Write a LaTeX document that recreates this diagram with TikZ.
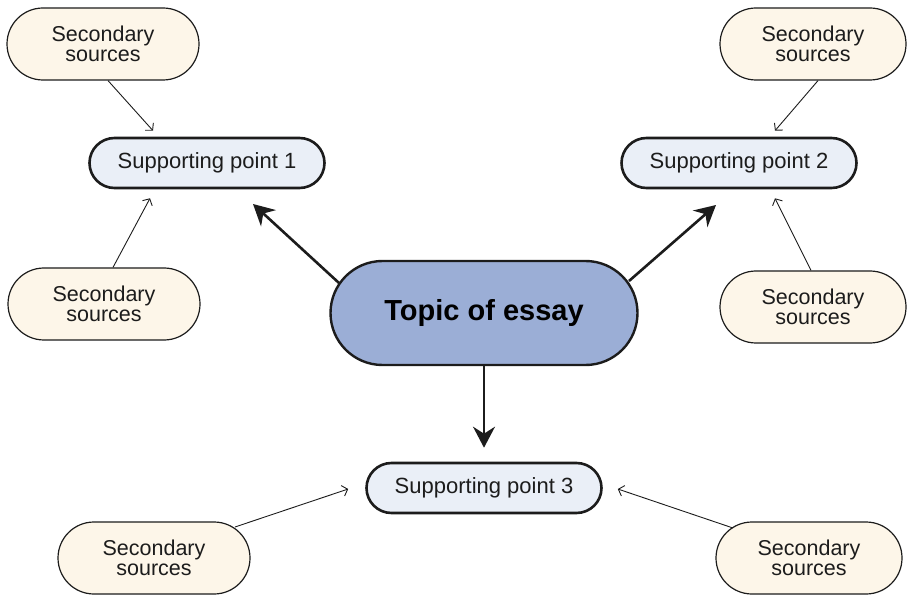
\documentclass[tikz,border=0pt]{standalone}
\usepackage{fontspec}
\setmainfont{Liberation Sans}
\usetikzlibrary{arrows.meta}

\definecolor{ink}{HTML}{1C1C1C}
\definecolor{srcfill}{HTML}{FDF6E9}
\definecolor{ptfill}{HTML}{EAEFF7}
\definecolor{topicfill}{HTML}{9BAED6}

\tikzset{
  srcbox/.style={draw=ink, line width=1.2pt, fill=srcfill, rounded corners=36pt,
    minimum width=192pt, minimum height=72pt, inner sep=0pt, align=center,
    text=ink, font=\fontsize{21.5}{19.5}\selectfont},
  ptbox/.style={draw=ink, line width=2.6pt, fill=ptfill, rounded corners=25pt,
    minimum width=235pt, minimum height=50pt, inner sep=0pt,
    text=ink, font=\fontsize{22}{24}\selectfont},
  topicbox/.style={draw=ink, line width=2.4pt, fill=topicfill, rounded corners=52pt,
    minimum width=307pt, minimum height=104pt, inner sep=0pt,
    text=black, font=\fontsize{29}{32}\selectfont\bfseries},
  cite/.style={draw=ink, line width=0.9pt, -{Straight Barb[length=5pt,width=11pt]}},
  branch/.style={draw=ink, line width=2.6pt, -{Stealth[length=21pt,width=22pt,inset=7pt]}}
}

\begin{document}
\begin{tikzpicture}[x=1pt,y=1pt]
  \useasboundingbox (0,0) rectangle (907,595);

  % central topic
  \node[topicbox] (topic) at (484,282) {Topic of essay};

  % supporting points
  \node[ptbox] (p1) at (207,432) {Supporting point 1};
  \node[ptbox] (p2) at (739,432) {Supporting point 2};
  \node[ptbox] (p3) at (484,107) {Supporting point 3};

  % secondary sources
  \node[srcbox] (tl) at (103,551) {Secondary\\sources};
  \node[srcbox] (ml) at (104,291) {Secondary\\sources};
  \node[srcbox, minimum width=186pt] (tr) at (813,551) {Secondary\\sources};
  \node[srcbox, minimum width=186pt] (mr) at (813,288) {Secondary\\sources};
  \node[srcbox] (bl) at (154,37) {Secondary\\sources};
  \node[srcbox, minimum width=186pt] (br) at (809,37) {Secondary\\sources};

  % topic to supporting points
  \draw[branch] ([shift={(-145pt,30pt)}]topic.center) -- ([shift={(46pt,-41pt)}]p1.center);
  \draw[branch] ([shift={(145pt,32pt)}]topic.center) -- ([shift={(-23pt,-42pt)}]p2.center);
  \draw[branch] (topic.south) -- ([yshift=14pt]p3.north);

  % sources feeding supporting points
  \draw[cite] ([xshift=5pt]tl.south) -- ([shift={(-54pt,6pt)}]p1.north);
  \draw[cite] ([xshift=9pt]ml.north) -- ([shift={(-57pt,-9pt)}]p1.south);
  \draw[cite] ([xshift=5pt]tr.south) -- ([shift={(36pt,6pt)}]p2.north);
  \draw[cite] ([xshift=-2pt]mr.north) -- ([shift={(36pt,-9pt)}]p2.south);
  \draw[cite] ([shift={(81pt,31pt)}]bl.center) -- ([shift={(-17pt,-1pt)}]p3.west);
  \draw[cite] ([shift={(-76pt,30pt)}]br.center) -- ([shift={(15pt,-1pt)}]p3.east);
\end{tikzpicture}
\end{document}
